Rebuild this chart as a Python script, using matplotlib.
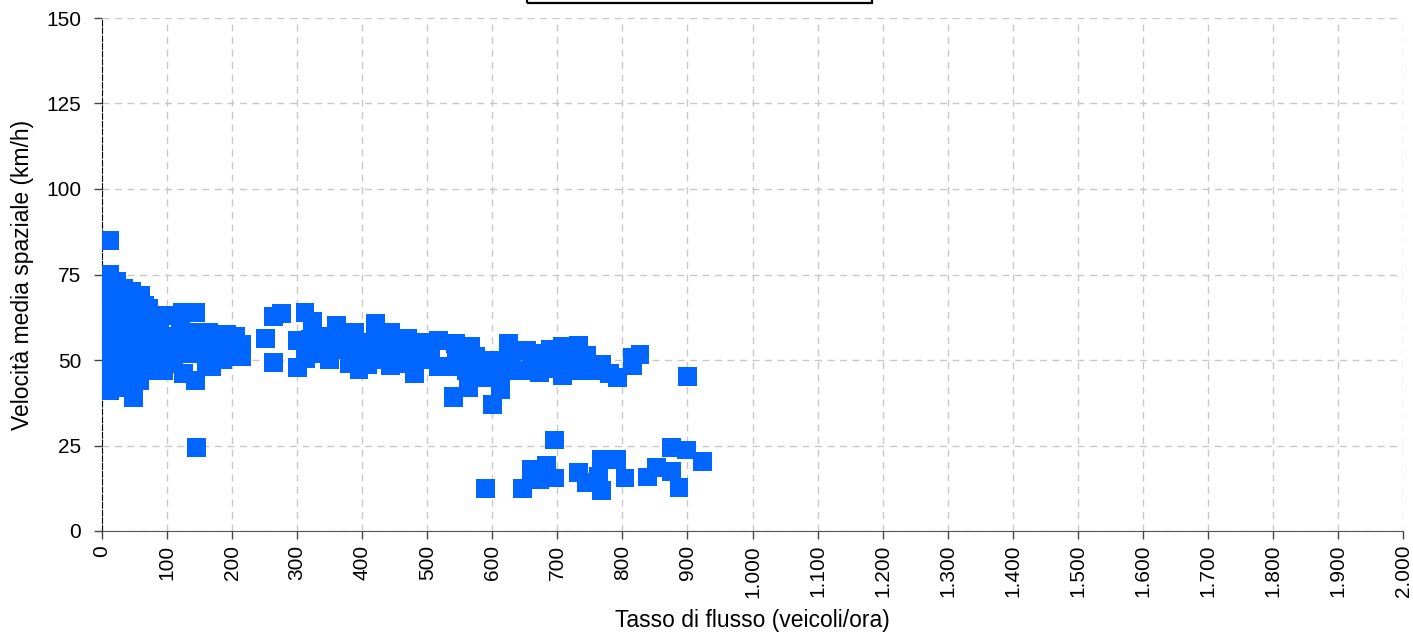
import numpy as np
import matplotlib
matplotlib.use("Agg")
import matplotlib.pyplot as plt
from matplotlib.patches import Rectangle

plt.rcParams['font.family'] = ['Liberation Sans', 'DejaVu Sans']

# Tasso di flusso (veicoli/ora) e velocità media spaziale (km/h)
flusso = [
    12, 12, 5, 23, 46, 59, 33,
    5, 15, 28, 40, 52, 65, 71,
    5, 15, 25, 36, 48, 75, 88, 99,
    5, 18, 30, 42, 68, 80, 92,
    5, 14, 26, 38, 50, 62, 98,
    5, 15, 28, 40, 55, 72, 88, 101,
    11, 25, 48, 40,
    20, 32, 45, 58, 65, 85, 95, 30, 10, 20, 35, 50, 80, 62,
    123, 144, 130, 160, 164, 192, 180, 215, 200, 215, 169, 144, 125, 110, 150, 135, 185, 145,
    110, 120, 140, 155, 170, 190, 205, 100, 120, 160, 180,
    251, 264, 276, 263,
    300, 300, 313, 312, 323, 338, 360, 388, 372, 384, 395, 420, 409, 444, 444, 470, 480,
    517, 517, 494, 540, 412, 444, 473, 430, 455, 400, 350, 330,
    320, 345, 365, 375, 400, 420, 435, 460, 490, 505, 380, 350, 470,
    544, 566, 540, 564, 600, 612, 625, 653, 672, 680, 708, 732, 708, 732, 745, 768, 792,
    815, 827, 816, 535, 590, 637, 760, 555, 580, 620, 660, 695, 720, 650, 700, 590, 575,
    560, 600, 610, 630, 665, 690, 715, 740, 780, 545,
    900,
    590, 696, 660, 683, 695, 647, 672, 732, 744, 768, 768, 791, 804, 839, 852, 876, 887,
    876, 899, 923, 763,
]
velocita = [
    85, 75, 72, 73, 70, 69, 71,
    66, 67, 66, 66, 65, 66, 65,
    60, 61, 62, 60, 62, 60, 62, 63,
    55, 56, 55, 57, 55, 57, 56,
    50, 51, 50, 52, 50, 51, 52,
    45, 46, 45, 45, 47, 47, 48, 49,
    41, 42, 39, 44.8,
    48, 58, 52, 44, 58, 58, 47, 44, 58, 64, 63, 68, 53, 48,
    64, 64, 58, 57, 58, 57.6, 54, 54.5, 52, 51, 48, 44, 46, 50, 52, 55, 50, 24.5,
    56, 60, 58, 54, 52, 55, 57, 57, 52, 49, 56,
    56.4, 62.7, 63.5, 49.3,
    55.6, 47.9, 50.3, 64, 61.2, 55.6, 60, 58.1, 53.2, 51.3, 47.1, 60.7, 48.8, 58.1, 48.3, 56.3, 45.9,
    55.8, 48, 55, 39.2, 53.9, 53.9, 52, 56, 51, 55, 57, 52,
    56, 54, 56, 58, 52, 52, 50, 55, 50, 52, 49, 50, 49,
    54.9, 53.9, 39, 42, 37, 41.5, 54.7, 52.7, 46.4, 52, 53.9, 54.2, 45.4, 46.9, 51.3, 48.8, 44.9,
    50.8, 51.5, 48.5, 48, 48.8, 47, 47, 50, 46, 49, 49, 50, 51, 47, 47.5, 45, 51,
    47, 50, 46, 51, 51, 53, 49, 49, 46, 50,
    45.1,
    12.3, 26.6, 18, 19.3, 15.5, 12.3, 14.9, 17.2, 14.3, 11.8, 20.8, 20.8, 15.5, 15.8, 18.5, 17.5, 12.6,
    24.3, 23.7, 20.2, 16,
]

x_ticks = list(range(0, 2001, 100))
x_tick_labels = [f"{v:,}".replace(",", ".") for v in x_ticks]
y_ticks = [0, 25, 50, 75, 100, 125, 150]

fig = plt.figure(figsize=(14.13, 6.4), dpi=100)
ax = fig.add_axes([102 / 1413, 109 / 640, 1301 / 1413, 513 / 640])

ax.scatter(flusso, velocita, marker='s', s=185, color='#0066ff',
           edgecolors='none', zorder=3)

ax.set_xlim(0, 2000)
ax.set_ylim(0, 150)
ax.set_xticks(x_ticks)
ax.set_xticklabels(x_tick_labels, rotation=90, fontsize=15)
ax.set_yticks(y_ticks)
ax.tick_params(axis='y', labelsize=15, pad=9)
ax.tick_params(axis='x', pad=4)
ax.tick_params(direction='out', length=6, color='#444444', width=1)

ax.grid(True, linestyle=(0, (5, 4)), color='#c8c8c8', linewidth=1)
ax.set_axisbelow(True)

ax.spines['top'].set_visible(False)
ax.spines['right'].set_visible(False)
ax.spines['bottom'].set_color('#555555')
ax.spines['left'].set_color('black')
ax.spines['left'].set_linestyle((0, (5, 2)))

ax.set_xlabel('Tasso di flusso (veicoli/ora)', fontsize=16.5, labelpad=8)
ax.set_ylabel('Velocità media spaziale (km/h)', fontsize=16.5, labelpad=9)

# riquadro del titolo, tagliato in alto
fig.patches.append(Rectangle((527 / 1413, 1 - 2.5 / 640), 345 / 1413, 0.05,
                             transform=fig.transFigure, fill=False,
                             edgecolor='black', linewidth=1.6, clip_on=False))

fig.savefig('out.png', dpi=100)
